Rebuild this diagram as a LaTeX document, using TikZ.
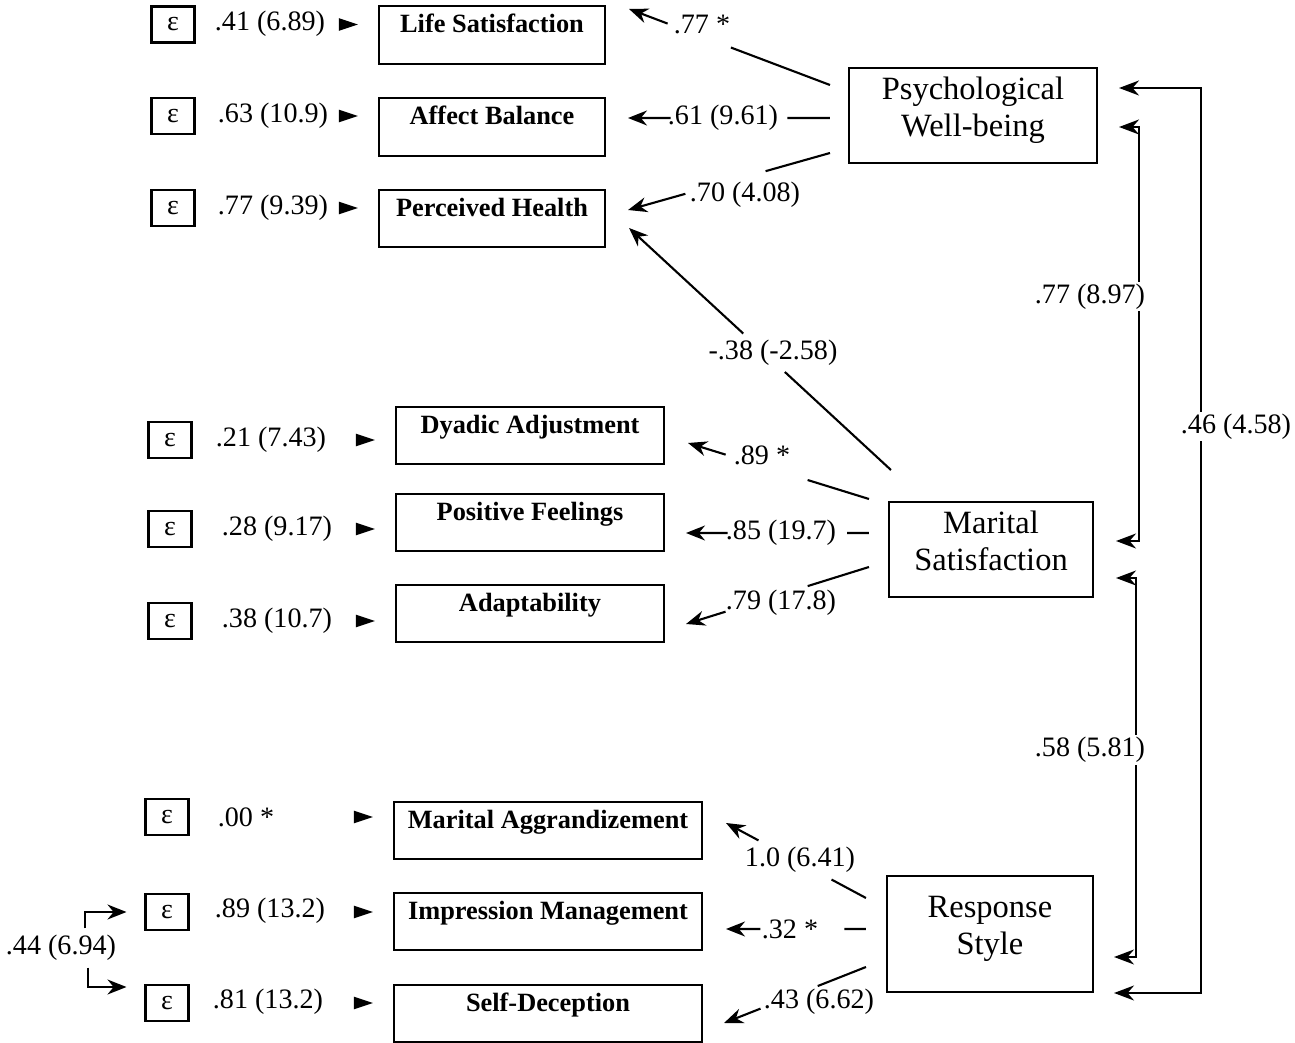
\documentclass[tikz,border=0pt]{standalone}
\usepackage{fontspec}
\setmainfont{Liberation Serif}
\usetikzlibrary{arrows.meta, calc}

\begin{document}
\begin{tikzpicture}[
      x=0.02cm, y=-0.02cm,
      line width=1.2pt,
      latent/.style={
        rectangle,
        draw,
        inner sep=0pt,
        minimum height=1.9cm,
        align=center,
        text depth=10pt,
        font=\fontsize{18.5}{21}\selectfont
      },
      indicator/.style={
        rectangle,
        draw,
        inner sep=0pt,
        text height=15pt,
        text depth=17.7pt,
        font=\fontsize{15}{17}\selectfont\bfseries
      },
      errbox/.style={
        rectangle,
        draw,
        inner sep=0pt,
        minimum width=0.86cm,
        minimum height=0.72cm,
        font=\fontsize{16}{18}\selectfont
      },
      coef/.style={inner sep=1pt, font=\fontsize{16}{18}\selectfont},
      errtip/.style={-{Triangle[length=0.38cm, width=0.24cm]}, shorten >=0.4cm,
        dash pattern=on 0pt off 3000pt},
      load/.style={-{Stealth[length=0.38cm, width=0.3cm]}},
      corr/.style={{Stealth[length=0.4cm, width=0.3cm]}-{Stealth[length=0.4cm, width=0.3cm]}},
      gap/.style 2 args={to path={(\tikztostart) -- ($(\tikztostart)!#1!(\tikztotarget)$)
          ($(\tikztostart)!#2!(\tikztotarget)$) -- (\tikztotarget)}}
    ]
    \useasboundingbox (0,0) rectangle (1295,1043);

    % Latent variables
    \node[latent, minimum width=4.96cm] (pwb) at (973,115.5) {Psychological\\Well-being};
    \node[latent, minimum width=4.08cm] (ms) at (991,549.5) {Marital\\Satisfaction};
    \node[latent, minimum width=4.12cm, minimum height=2.32cm] (rs) at (990,934) {Response\\Style};

    % Indicators
    \node[indicator, minimum width=4.52cm] (ls) at (492,35) {Life Satisfaction};
    \node[indicator, minimum width=4.52cm] (ab) at (492,127) {Affect Balance};
    \node[indicator, minimum width=4.52cm] (ph) at (492,218.5) {Perceived Health};
    \node[indicator, minimum width=5.36cm] (da) at (530,435.5) {Dyadic Adjustment};
    \node[indicator, minimum width=5.36cm] (pf) at (530,522.5) {Positive Feelings};
    \node[indicator, minimum width=5.36cm] (ad) at (530,613.5) {Adaptability};
    \node[indicator, minimum width=6.16cm] (ma) at (548,830.5) {Marital Aggrandizement};
    \node[indicator, minimum width=6.16cm] (im) at (548,921.5) {Impression Management};
    \node[indicator, minimum width=6.16cm] (sd) at (548,1013.5) {Self-Deception};

    % Error terms
    \node[errbox] (e1) at (173,24.5) {ε};
    \node[errbox] (e2) at (173,116) {ε};
    \node[errbox] (e3) at (173,208) {ε};
    \node[errbox] (e4) at (170,440) {ε};
    \node[errbox] (e5) at (170,529) {ε};
    \node[errbox] (e6) at (170,621) {ε};
    \node[errbox] (e7) at (167,817) {ε};
    \node[errbox] (e8) at (167,912) {ε};
    \node[errbox] (e9) at (167,1003) {ε};

    % Error variances
    \node[coef] (v1) at (270,24) {.41 (6.89)};
    \node[coef] (v2) at (273,116) {.63 (10.9)};
    \node[coef] (v3) at (273,208) {.77 (9.39)};
    \node[coef] (v4) at (271,440) {.21 (7.43)};
    \node[coef] (v5) at (277,529) {.28 (9.17)};
    \node[coef] (v6) at (277,621) {.38 (10.7)};
    \node[coef] (v7) at (246,817) {.00 *};
    \node[coef] (v8) at (270,911) {.89 (13.2)};
    \node[coef] (v9) at (268,1002) {.81 (13.2)};

    \draw[errtip] (e1) -- (e1 -| ls.west);
    \draw[errtip] (e2) -- (e2 -| ab.west);
    \draw[errtip] (e3) -- (e3 -| ph.west);
    \draw[errtip] (e4) -- (e4 -| da.west);
    \draw[errtip] (e5) -- (e5 -| pf.west);
    \draw[errtip] (e6) -- (e6 -| ad.west);
    \draw[errtip] (e7) -- (e7 -| ma.west);
    \draw[errtip] (e8) -- (e8 -| im.west);
    \draw[errtip] (e9) -- (e9 -| sd.west);

    % Loading end points
    \path (pwb.west) ++(-18,-30.5) coordinate (s1)
          (pwb.west) ++(-18,2.5) coordinate (s2)
          (pwb.west) ++(-18,37.5) coordinate (s3)
          (ms.west) ++(3,-79.5) coordinate (s4)
          (ms.west) ++(-19,-50.5) coordinate (s5)
          (ms.west) ++(-19,-16.5) coordinate (s6)
          (ms.west) ++(-19,17.5) coordinate (s7)
          (rs.west) ++(-20,-36) coordinate (s8)
          (rs.west) ++(-20,-5) coordinate (s9)
          (rs.west) ++(-20,33) coordinate (s10);
    \path (ls.east) ++(23,-26) coordinate (t1)
          (ab.east) ++(22,-9) coordinate (t2)
          (ph.east) ++(22,-8.5) coordinate (t3)
          (ph.east) ++(23,9.5) coordinate (t4)
          (da.east) ++(23,7.5) coordinate (t5)
          (pf.east) ++(21,10.5) coordinate (t6)
          (ad.east) ++(21,10.5) coordinate (t7)
          (ma.east) ++(23,-7.5) coordinate (t8)
          (im.east) ++(23,7.5) coordinate (t9)
          (sd.east) ++(21,9.5) coordinate (t10);

    % Loadings
    \draw[load] (s1) to[gap={0.493}{0.808}] (t1);
    \draw[load] (s2) to[gap={0.211}{0.789}] (t2);
    \draw[load] (s3) to[gap={0.319}{0.716}] (t3);
    \draw[load] (s4) to[gap={0.405}{0.564}] (t4);
    \draw[load] (s5) to[gap={0.339}{0.792}] (t5);
    \draw[load] (s6) to[gap={0.119}{0.773}] (t6);
    \draw[load] (s7) to[gap={0.335}{0.784}] (t7);
    \draw[load] (s8) to[gap={0.246}{0.768}] (t8);
    \draw[load] (s9) to[gap={0.155}{0.754}] (t9);
    \draw[load] (s10) to[gap={0.340}{0.743}] (t10);

    \node[coef] (l1) at (702,25) {.77 *};
    \node[coef] (l2) at (723,118) {.61 (9.61)};
    \node[coef] (l3) at (745,195) {.70 (4.08)};
    \node[coef] (l4) at (773,353) {-.38 (-2.58)};
    \node[coef] (l5) at (762,455) {.89 *};
    \node[coef] (l6) at (781,533) {.85 (19.7)};
    \node[coef] (l7) at (781,603) {.79 (17.8)};
    \node[coef] (l8) at (800,860) {1.0 (6.41)};
    \node[coef] (l9) at (790,929) {.32 *};
    \node[coef] (l10) at (819,1002) {.43 (6.62)};

    % Correlations
    \draw[corr] ($(pwb.east)+(21,11.5)$) -- ++(20,0) |- ($(ms.east)+(22,-8.5)$);
    \draw[corr] ($(ms.east)+(22,28.5)$) -- ++(20,0) |- ($(rs.east)+(20,23)$);
    \draw[corr] ($(pwb.east)+(21,-27.5)$) -- ++(82,0) |- ($(rs.east)+(20,59)$);
    \node[coef, fill=white] (r1) at (1090,297) {.77 (8.97)};
    \node[coef, fill=white] (r2) at (1090,750) {.58 (5.81)};
    \node[coef, fill=white] (r3) at (1236,427) {.46 (4.58)};

    \node[coef] (r4) at (61,948) {.44 (6.94)};
    \draw[load] ($(r4.north)+(24,-4)$) |- ($(e8.west)+(-18,0)$);
    \draw[load] ($(r4.south)+(27,4)$) |- ($(e9.west)+(-18,-16)$);
  \end{tikzpicture}
\end{document}
